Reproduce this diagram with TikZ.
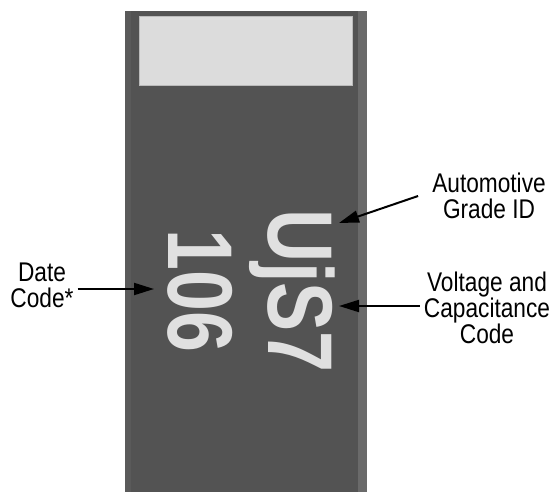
\documentclass[tikz,border=0pt]{standalone}
\usepackage{fontspec}
\setmainfont{Liberation Sans}[FakeStretch=0.84]
\newfontfamily\markfont{Liberation Sans}[FakeStretch=0.8]
\usetikzlibrary{arrows.meta}
\definecolor{bodygray}{HTML}{535353}
\definecolor{edgegray}{HTML}{5A5A5A}
\definecolor{stripgray}{HTML}{6A6A6A}
\definecolor{padgray}{HTML}{DCDCDC}
\definecolor{inkgray}{HTML}{E0E0E0}

\begin{document}
\begin{tikzpicture}[x=1pt, y=-1pt,
    lbl/.style={align=center, inner sep=4pt, font=\fontsize{27}{26}\selectfont},
    marking/.style={rotate=-90, anchor=base, inner sep=0pt, text=inkgray,
        font=\markfont\bfseries\fontsize{92}{92}\selectfont},
    ptr/.style={line width=2pt, -{Triangle[length=20pt, width=12pt]}}]
    \useasboundingbox (0,0) rectangle (553,492);

    % chip body
    \fill[bodygray] (125,11) rectangle (367,492);
    \fill[edgegray] (125,11) rectangle (131,492);
    \fill[stripgray] (358,11) rectangle (367,492);
    \filldraw[fill=padgray, draw=padgray!85!black, line width=0.6pt] (139,16) rectangle (352,85);

    % markings
    \node[marking] (code) at (268,291) {UjS7};
    \node[marking] (datecode) at (168,291) {106};

    % labels
    \node[lbl] (auto) at (489,196) {Automotive\\Grade ID};
    \node[lbl] (volt) at (487,308) {Voltage and\\Capacitance\\Code};
    \node[lbl] (date) at (42,285) {Date\\Code*};

    % arrows
    \coordinate (autotip) at (339,223);
    \coordinate (volttip) at (339,306);
    \coordinate (datetip) at (154,289);
    \draw[ptr] ([xshift=-10pt]auto.west) -- (autotip);
    \draw[ptr] (volt.west |- volttip) -- (volttip);
    \draw[ptr] (date.east |- datetip) -- (datetip);
\end{tikzpicture}
\end{document}
